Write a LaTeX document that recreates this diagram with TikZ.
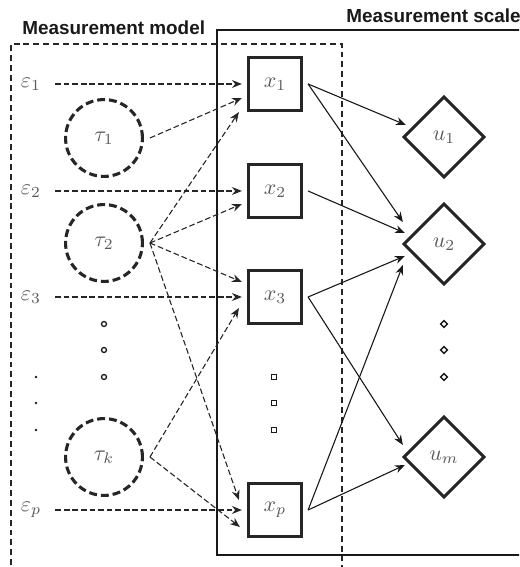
\documentclass[tikz,border=0pt]{standalone}
\usepackage{fontspec}
\newfontfamily\headfont{Liberation Sans}
\usetikzlibrary{shapes.geometric, arrows.meta, calc}

\begin{document}
\begin{tikzpicture}[
            x=0.016cm, y=-0.016cm,
            every node/.append style = {text=black!65},
            latent/.style = {circle, draw=black!85, line width=1.4pt, dash pattern=on 3.6pt off 1.8pt, minimum size=1.23cm, inner sep=0pt},
            observed/.style = {rectangle, draw=black!85, line width=1.4pt, minimum size=0.85cm, inner sep=0pt},
            scaled/.style = {diamond, aspect=1, draw=black!85, line width=1.4pt, minimum size=1.3cm, inner sep=0pt},
            title/.style = {font=\headfont\bfseries\fontsize{8.6}{10}\selectfont, text=black!90, inner sep=0pt},
            dasharr/.style = {draw=black!85, line width=0.5pt, dash pattern=on 2.6pt off 1.3pt, -{Stealth[length=4.5pt, width=3.6pt]}},
            solidarr/.style = {draw=black!90, line width=0.5pt, -{Stealth[length=4.5pt, width=3.6pt]}},
            marker/.style = {draw=black!90, line width=0.6pt},
        ]
            \path[use as bounding box, clip] (0,0) rectangle (519,567);

            % Frames
            \draw[black!85, line width=0.6pt, dash pattern=on 2.7pt off 1.8pt] (11,575) -- (11,44) -- (342,44) -- (342,575);
            \draw[black!90, line width=0.5pt] (530,30) -- (217,30) -- (217,555) -- (530,555);
            \node[title, anchor=base west] (model) at (22,35) {Measurement model};
            \node[title, anchor=base west] (scale) at (346,23) {Measurement scale};

            % Error terms
            \node (e1) at (31,84) {$\varepsilon_1$};
            \node (e2) at (31,191) {$\varepsilon_2$};
            \node (e3) at (31,297) {$\varepsilon_3$};
            \node (ep) at (31,510) {$\varepsilon_p$};

            % Latent traits
            \node[latent] (t1) at (104,138) {$\tau_1$};
            \node[latent] (t2) at (104,243) {$\tau_2$};
            \node[latent] (tk) at (104,457) {$\tau_k$};

            % Observed items
            \node[observed] (x1) at (275,84) {$x_1$};
            \node[observed] (x2) at (275,191) {$x_2$};
            \node[observed] (x3) at (275,297) {$x_3$};
            \node[observed] (xp) at (275,510) {$x_p$};

            % Scale scores
            \node[scaled] (u1) at (444,137) {$u_1$};
            \node[scaled] (u2) at (444,244) {$u_2$};
            \node[scaled] (um) at (444,457) {$u_m$};

            % Ellipsis markers
            \foreach \y in {377,403,430} {
                \fill[black!90] (36,\y) circle[radius=1.3];
                \draw[marker] (274,\y) +(-2.4,-2.4) rectangle +(2.4,2.4);
            }
            \foreach \y in {324,350,377} {
                \draw[marker] (104,\y) circle[radius=2.5];
                \draw[marker] (444,\y) +(0,-3.4) -- +(3.4,0) -- +(0,3.4) -- +(-3.4,0) -- cycle;
            }

            % Errors -> items
            \draw[dasharr, shorten <=2.9pt, shorten >=2.3pt] (e1) -- (x1);
            \draw[dasharr, shorten <=2.9pt, shorten >=2.3pt] (e2) -- (x2);
            \draw[dasharr, shorten <=2.9pt, shorten >=2.3pt] (e3) -- (x3);
            \draw[dasharr, shorten <=2.9pt, shorten >=2.3pt] (ep) -- (xp);

            % Traits -> items
            \draw[dasharr] ($(t1.east)+(6,0)$) -- ($(x1.west)+(-5,14)$);
            \draw[dasharr] ($(t2.east)+(6,0)$) -- ($(x1.south west)+(-8,0)$);
            \draw[dasharr] ($(t2.east)+(6,0)$) -- ($(x2.west)+(-5,13)$);
            \draw[dasharr] ($(t2.east)+(6,0)$) -- ($(x3.west)+(-5,-15)$);
            \draw[dasharr] ($(t2.east)+(6,0)$) -- ($(xp.west)+(-8,-10)$);
            \draw[dasharr] ($(tk.east)+(6,0)$) -- ($(x3.west)+(-8,11)$);
            \draw[dasharr] ($(tk.east)+(6,0)$) -- ($(xp.west)+(-7,17)$);

            % Items -> scale scores
            \draw[solidarr] ($(x1.east)+(5,0)$) -- ($(u1.west)+(4,-12)$);
            \draw[solidarr] ($(x1.east)+(5,0)$) -- ($(u2.west)+(1,-22)$);
            \draw[solidarr] ($(x2.east)+(5,0)$) -- ($(u2.west)+(3,-11)$);
            \draw[solidarr] ($(x3.east)+(5,0)$) -- ($(u2.west)+(3,12)$);
            \draw[solidarr] ($(xp.east)+(5,0)$) -- ($(u2.west)+(1,21)$);
            \draw[solidarr] ($(x3.east)+(5,0)$) -- ($(um.west)+(1,-12)$);
            \draw[solidarr] ($(xp.east)+(5,0)$) -- ($(um.west)+(3,8)$);
        \end{tikzpicture}
\end{document}
